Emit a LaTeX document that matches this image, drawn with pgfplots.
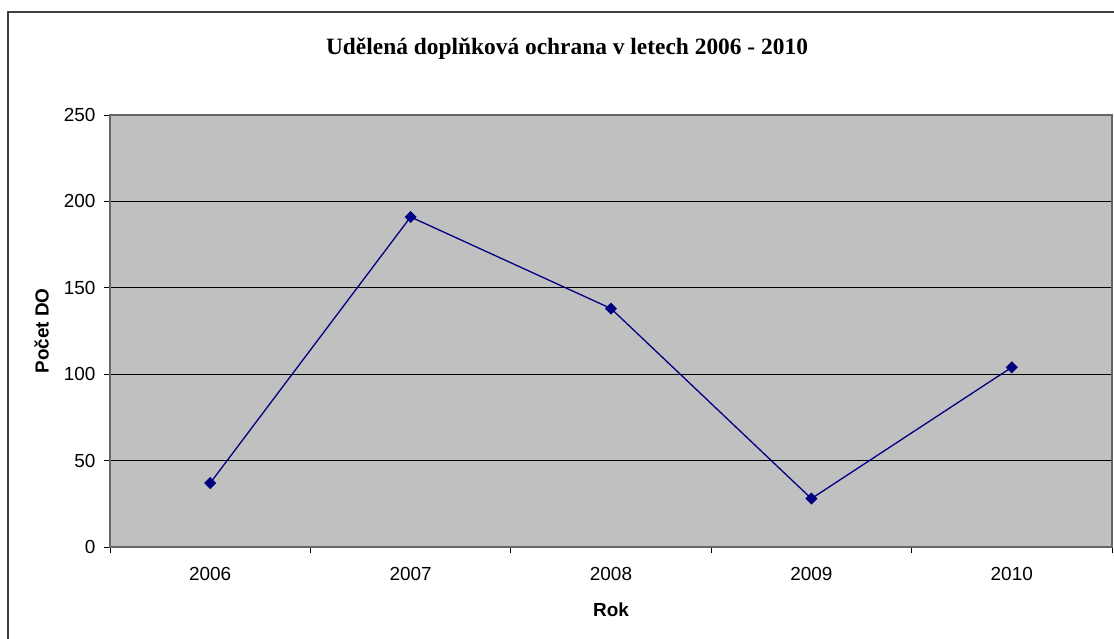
\documentclass[border=0pt]{standalone}
\usepackage{fontspec}
\setmainfont{Liberation Serif}
\newfontfamily\arial{Liberation Sans}
\usepackage{pgfplots}
\pgfplotsset{compat=1.18}
\definecolor{plotbg}{RGB}{192,192,192}
\definecolor{navyline}{RGB}{0,0,128}
\begin{document}
\begin{tikzpicture}[x=1bp,y=1bp]
\useasboundingbox (0,0) rectangle (1114,639);
\fill[white] (0,0) rectangle (1114,639);
\draw[line width=1.5bp, black!75] (8,-5) -- (8,627) -- (1120,627);
\node[font=\fontsize{23.5}{26}\selectfont\bfseries] at (567,590) {Udělená doplňková ochrana v letech 2006 - 2010};
\begin{axis}[at={(110bp,92bp)}, anchor=south west, scale only axis,
  width=1002bp, height=432bp,
  xmin=-0.5, xmax=4.5, ymin=0, ymax=250,
  axis background/.style={fill=plotbg},
  axis line style={draw=black!60, line width=1.2bp},
  xtick={-0.5,0.5,1.5,2.5,3.5,4.5}, xticklabels={},
  extra x ticks={0,1,2,3,4},
  extra x tick labels={2006,2007,2008,2009,2010},
  extra x tick style={major tick length=0pt},
  ytick={0,50,100,150,200,250},
  tick align=outside, major tick length=6bp,
  tick style={draw=black, line width=0.8bp},
  xtick pos=bottom, ytick pos=left,
  ymajorgrids, major grid style={draw=black, line width=0.9bp},
  /pgf/number format/assume math mode=true,
  tick label style={font=\arial\fontsize{19}{21}\selectfont},
  xticklabel style={yshift=-17bp},
  yticklabel style={xshift=-5bp},
  xlabel={Rok}, ylabel={Počet DO},
  every axis x label/.style={at={(axis description cs:0.5,-0.1458)}, anchor=center, font=\arial\bfseries\fontsize{19}{21}\selectfont},
  every axis y label/.style={at={(axis description cs:-0.0682,0.5)}, anchor=center, rotate=90, font=\arial\bfseries\fontsize{19}{21}\selectfont},
]
\addplot[color=navyline, line width=1.3bp, mark=square*, mark size=3.6bp, mark options={fill=navyline, draw=navyline, rotate=45}]
  coordinates {(0,37) (1,191) (2,138) (3,28) (4,104)};
\end{axis}
\end{tikzpicture}
\end{document}
